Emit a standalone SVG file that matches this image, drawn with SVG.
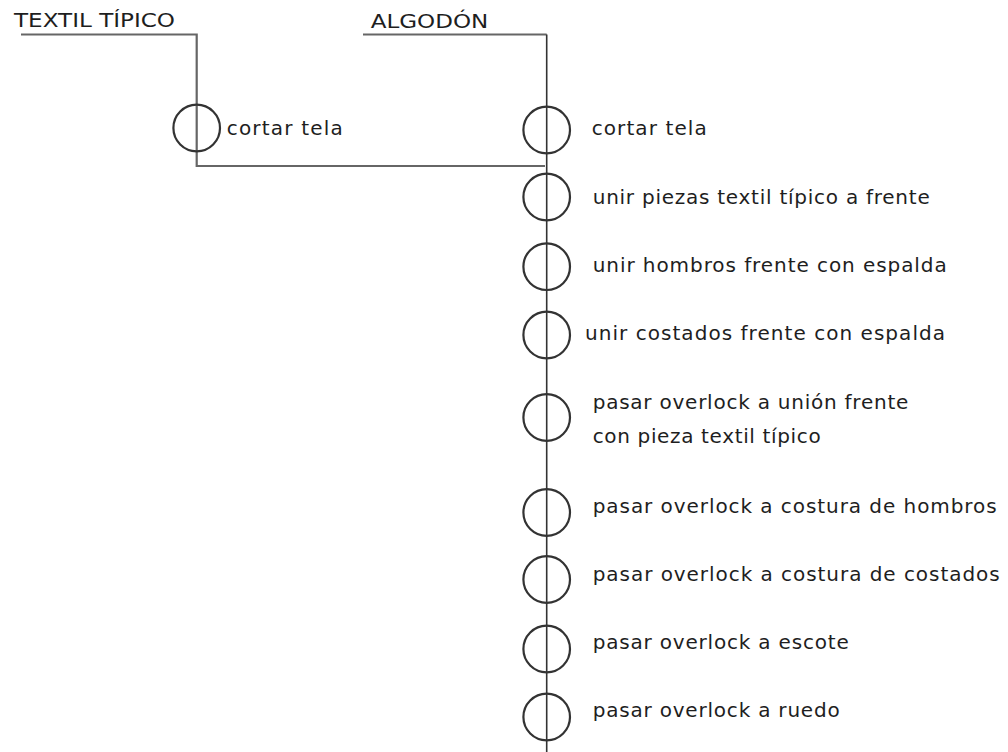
<svg xmlns="http://www.w3.org/2000/svg" width="1008" height="752" viewBox="0 0 1008 752">
  <style>
    .bg { fill: #ffffff; }
    .op { fill: none; stroke: #333333; stroke-width: 2.2; }
    .lbl { font-family: "DejaVu Sans", "Liberation Sans", sans-serif; font-size: 20px; fill: #1e1e1e; }
    .hdr { font-family: "DejaVu Sans", "Liberation Sans", sans-serif; font-size: 20px; fill: #1e1e1e; }
    .flow { fill: none; stroke: #333333; stroke-width: 1.6; }
    .feed { fill: none; stroke: #666666; stroke-width: 2.2; }
  </style>
  <rect class="bg" x="0" y="0" width="1008" height="752"/>

  <g id="connectors">
    <polyline class="feed" points="21,34.5 196.7,34.5 196.7,166 545,166"/>
    <polyline class="feed" points="363,34.5 546.7,34.5"/>
    <line class="flow" x1="546.7" y1="34.5" x2="546.7" y2="752"/>
  </g>

  <g id="header-textil">
    <text class="hdr" x="14" y="27" textLength="161" lengthAdjust="spacingAndGlyphs">TEXTIL TÍPICO</text>
  </g>
  <g id="header-algodon">
    <text class="hdr" x="370.7" y="27.5" textLength="117.6" lengthAdjust="spacingAndGlyphs">ALGODÓN</text>
  </g>

  <g id="t-cortar-tela">
    <circle class="op" cx="196.7" cy="128" r="23.3"/>
    <text class="lbl" x="226.7" y="134.7" textLength="116" lengthAdjust="spacing">cortar tela</text>
  </g>

  <g id="a-cortar-tela">
    <circle class="op" cx="546.7" cy="130" r="23.3"/>
    <text class="lbl" x="591.7" y="134.7" textLength="115" lengthAdjust="spacing">cortar tela</text>
  </g>
  <g id="unir-piezas">
    <circle class="op" cx="546.7" cy="197" r="23.3"/>
    <text class="lbl" x="592.7" y="204" textLength="337" lengthAdjust="spacing">unir piezas textil típico a frente</text>
  </g>
  <g id="unir-hombros">
    <circle class="op" cx="546.7" cy="266.7" r="23.3"/>
    <text class="lbl" x="592.7" y="272" textLength="354" lengthAdjust="spacing">unir hombros frente con espalda</text>
  </g>
  <g id="unir-costados">
    <circle class="op" cx="546.7" cy="335" r="23.3"/>
    <text class="lbl" x="585" y="340" textLength="360" lengthAdjust="spacing">unir costados frente con espalda</text>
  </g>
  <g id="overlock-union">
    <circle class="op" cx="546.7" cy="417.5" r="23.3"/>
    <text class="lbl" x="592.7" y="408.5" textLength="315.6" lengthAdjust="spacing">pasar overlock a unión frente</text>
    <text class="lbl" x="592.7" y="443.3" textLength="228" lengthAdjust="spacing">con pieza textil típico</text>
  </g>
  <g id="overlock-hombros">
    <circle class="op" cx="546.7" cy="512.5" r="23.3"/>
    <text class="lbl" x="592.7" y="512.7" textLength="404" lengthAdjust="spacing">pasar overlock a costura de hombros</text>
  </g>
  <g id="overlock-costados">
    <circle class="op" cx="546.7" cy="579.5" r="23.3"/>
    <text class="lbl" x="592.7" y="581" textLength="407" lengthAdjust="spacing">pasar overlock a costura de costados</text>
  </g>
  <g id="overlock-escote">
    <circle class="op" cx="546.7" cy="649" r="23.3"/>
    <text class="lbl" x="592.7" y="649.3" textLength="256" lengthAdjust="spacing">pasar overlock a escote</text>
  </g>
  <g id="overlock-ruedo">
    <circle class="op" cx="546.7" cy="717" r="23.3"/>
    <text class="lbl" x="592.7" y="717.3" textLength="247" lengthAdjust="spacing">pasar overlock a ruedo</text>
  </g>
</svg>
